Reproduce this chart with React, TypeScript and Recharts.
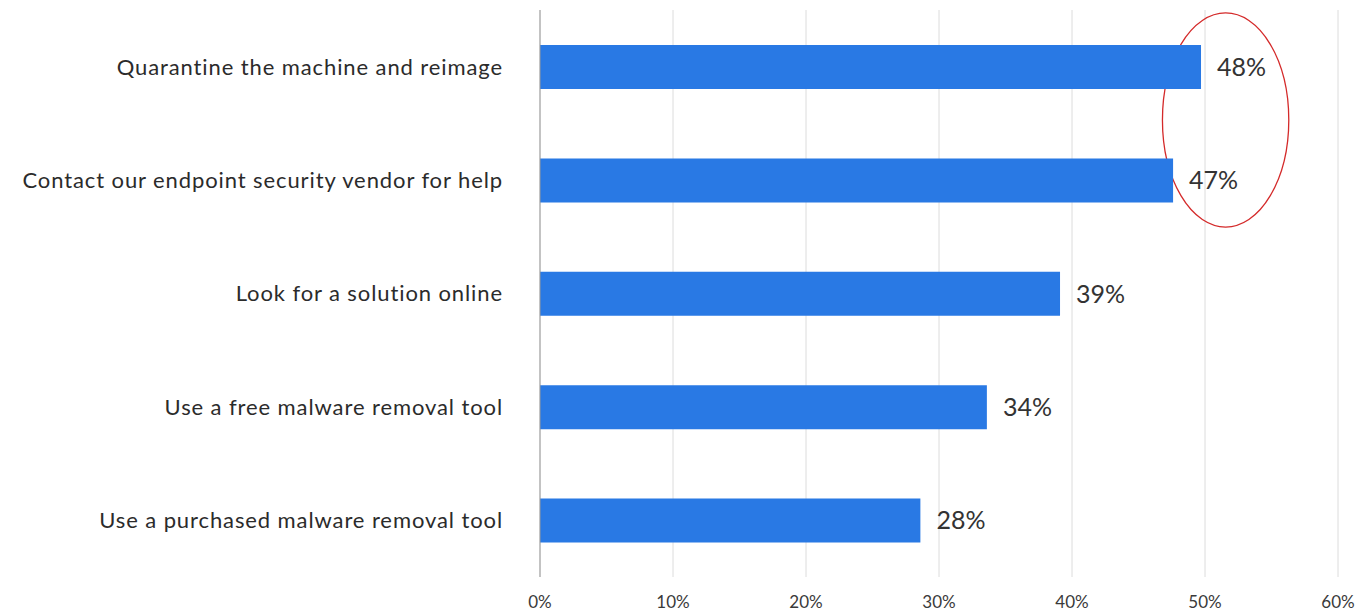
import React from 'react';
import { BarChart, Bar, XAxis, YAxis, CartesianGrid, LabelList, ReferenceArea } from 'recharts';

const categories = [
  'Quarantine the machine and reimage',
  'Contact our endpoint security vendor for help',
  'Look for a solution online',
  'Use a free malware removal tool',
  'Use a purchased malware removal tool',
];
// bar lengths as drawn, and the labels printed next to them
const values = [49.7, 47.6, 39.1, 33.6, 28.6];
const valueLabels = ['48%', '47%', '39%', '34%', '28%'];
const xTicks = [0, 10, 20, 30, 40, 50, 60];

const data = categories.map((name, i) => ({ name, value: values[i], label: valueLabels[i] }));

// red ring drawn inside the reference area box
const Ellipse = (props: any) => {
  const { x, y, width, height } = props;
  return (
    <ellipse
      cx={x + width / 2}
      cy={y + height * 0.485}
      rx={width / 2}
      ry={height * 0.472}
      fill="none"
      stroke="#d42a2a"
      strokeWidth={1.3}
    />
  );
};

export default function App() {
  return (
    <div style={{ position: 'absolute', left: 0, top: 0, background: '#fff' }}>
      <BarChart
        width={1361}
        height={611}
        data={data}
        layout="vertical"
        margin={{ top: 10, right: 23, bottom: 0, left: 0 }}
        barCategoryGap={0}
      >
        <CartesianGrid horizontal={false} stroke="#dcdcdc" strokeWidth={1} />
        <XAxis
          type="number"
          domain={[0, 60]}
          ticks={xTicks}
          tickFormatter={(v) => `${v}%`}
          axisLine={false}
          tickLine={false}
          tickMargin={13}
          height={34}
          tick={{ fill: '#3a3a3a', fontSize: 17, fontFamily: 'Lato' }}
        />
        <YAxis
          type="category"
          dataKey="name"
          width={540}
          axisLine={{ stroke: '#999' }}
          tickLine={false}
          tickMargin={31}
          tick={{ fill: '#2b2b2b', fontSize: 22, fontFamily: 'Lato', letterSpacing: 0.9 }}
        />
        <Bar dataKey="value" fill="#2979e4" barSize={44} isAnimationActive={false}>
          <LabelList
            dataKey="label"
            position="right"
            offset={16}
            style={{ fill: '#333', fontSize: 25, fontFamily: 'Lato' }}
          />
        </Bar>
        <ReferenceArea
          x1={46.8}
          x2={56.3}
          y1={categories[0]}
          y2={categories[1]}
          shape={<Ellipse />}
        />
      </BarChart>
    </div>
  );
}
